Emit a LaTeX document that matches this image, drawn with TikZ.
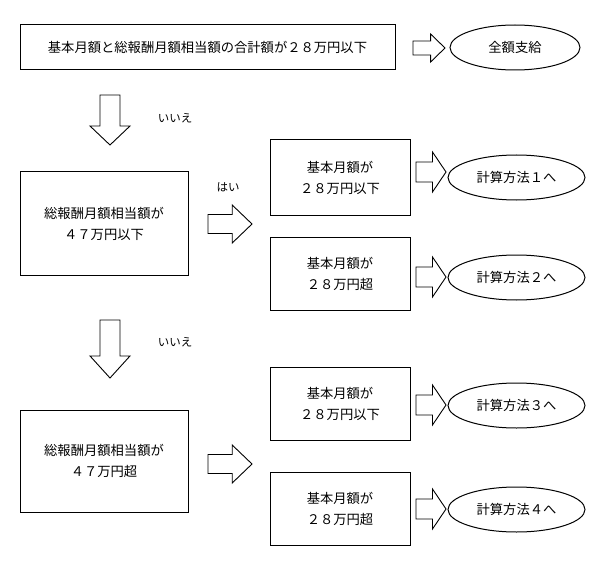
\documentclass[tikz,border=0pt]{standalone}
\usepackage{fontspec}
\setmainfont{Noto Sans CJK JP}
\usetikzlibrary{shapes.geometric}
\begin{document}
\begin{tikzpicture}[x=1pt,y=-1pt,
  box/.style={draw,line width=1pt,inner sep=0pt,align=center,font=\fontsize{13.3}{21}\selectfont},
  oval/.style={draw,ellipse,line width=1pt,inner sep=0pt,align=center,font=\fontsize{13.3}{16}\selectfont},
  lbl/.style={inner sep=0pt,font=\fontsize{11.5}{14}\selectfont},
  blk/.style={draw,line width=0.9pt,fill=white,line join=miter}]
\useasboundingbox (0,0) rectangle (600,575);
\newcommand{\rarr}[4]{% x0 x1 ymid height
  \draw[blk] ({#1},{#3-#4/4}) -- ({#1+(#2-#1)*0.55},{#3-#4/4}) -- ({#1+(#2-#1)*0.55},{#3-#4/2}) -- ({#2},{#3}) -- ({#1+(#2-#1)*0.55},{#3+#4/2}) -- ({#1+(#2-#1)*0.55},{#3+#4/4}) -- ({#1},{#3+#4/4}) -- cycle;}
\newcommand{\darr}[3]{% xmid y0 y1
  \draw[blk] ({#1-10},{#2}) -- ({#1+10},{#2}) -- ({#1+10},{#2+(#3-#2)*0.62}) -- ({#1+20},{#2+(#3-#2)*0.62}) -- ({#1},{#3}) -- ({#1-20},{#2+(#3-#2)*0.62}) -- ({#1-10},{#2+(#3-#2)*0.62}) -- cycle;}
\node[box,minimum width=375,minimum height=45] (top) at (207.5,47.5) {基本月額と総報酬月額相当額の合計額が２８万円以下};
\node[oval,minimum width=130,minimum height=45] (all) at (515,47.5) {全額支給};
\rarr{413}{445}{48}{28}
\darr{110}{95}{145}
\node[lbl] (n1) at (175,118) {いいえ};
\node[box,minimum width=168,minimum height=103] (b2) at (104,223.5) {総報酬月額相当額が\\４７万円以下};
\node[lbl] (y1) at (228,187) {はい};
\rarr{208}{252}{224}{38}
\node[box,minimum width=140,minimum height=75] (b3) at (340,177.5) {基本月額が\\２８万円以下};
\rarr{416}{446}{172}{40}
\node[oval,minimum width=137,minimum height=45] (c1) at (516.5,177.5) {計算方法１へ};
\node[box,minimum width=140,minimum height=73] (b4) at (340,273.5) {基本月額が\\２８万円超};
\rarr{416}{446}{277}{40}
\node[oval,minimum width=137,minimum height=45] (c2) at (516.5,277.5) {計算方法２へ};
\darr{110}{320}{378}
\node[lbl] (n2) at (175,342) {いいえ};
\node[box,minimum width=168,minimum height=102] (b5) at (104,461) {総報酬月額相当額が\\４７万円超};
\rarr{208}{252}{464}{38}
\node[box,minimum width=140,minimum height=73] (b6) at (340,403.5) {基本月額が\\２８万円以下};
\rarr{416}{446}{405}{40}
\node[oval,minimum width=137,minimum height=45] (c3) at (516.5,405.5) {計算方法３へ};
\node[box,minimum width=140,minimum height=73] (b7) at (340,508.5) {基本月額が\\２８万円超};
\rarr{416}{446}{509}{40}
\node[oval,minimum width=137,minimum height=45] (c4) at (516.5,509.5) {計算方法４へ};
\end{tikzpicture}
\end{document}
